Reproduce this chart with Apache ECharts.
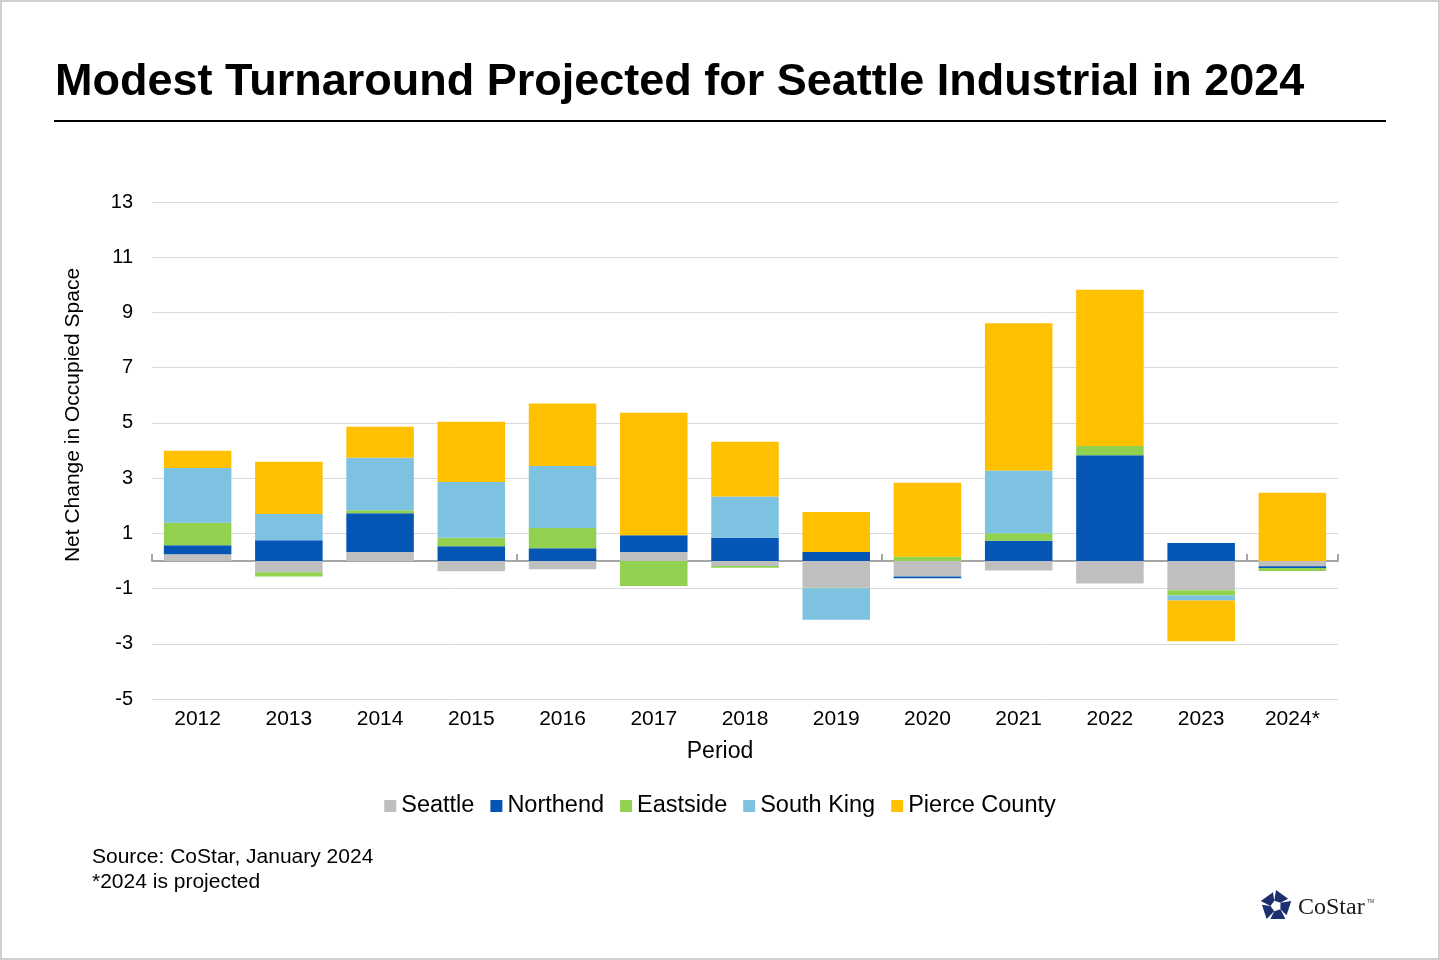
<!DOCTYPE html>
<html>
<head>
<meta charset="utf-8">
<title>Seattle Industrial</title>
<script src="https://cdn.jsdelivr.net/npm/echarts@6/dist/echarts.min.js"></script>
<style>
  html, body { margin: 0; padding: 0; background: #fff; }
  #chart { width: 1440px; height: 960px; }
  #frame { position: absolute; left: 0; top: 0; width: 1440px; height: 960px; box-sizing: border-box;
           border: 2px solid #d0d0d0; pointer-events: none; }
</style>
</head>
<body>
<div id="chart"></div>
<div id="frame"></div>
<script>
// categories
var years = ['2012', '2013', '2014', '2015', '2016', '2017', '2018', '2019', '2020', '2021', '2022', '2023', '2024*'];
// series values
var seattle    = [0.24, -0.41, 0.32, -0.37, -0.30, 0.32, -0.18, -0.97, -0.56, -0.35, -0.82, -1.06, -0.19];
var northend   = [0.33, 0.75, 1.41, 0.53, 0.46, 0.61, 0.84, 0.32, -0.07, 0.73, 3.83, 0.65, -0.07];
var eastside   = [0.81, -0.15, 0.11, 0.31, 0.73, -0.91, -0.07, -0.02, 0.15, 0.27, 0.33, -0.19, -0.10];
var southKing  = [1.99, 0.95, 1.90, 2.02, 2.25, 0, 1.49, -1.14, 0, 2.28, 0, -0.18, 0];
var pierce     = [0.62, 1.89, 1.12, 2.18, 2.26, 4.44, 1.99, 1.45, 2.68, 5.33, 5.66, -1.48, 2.47];

var seriesNames = ['Seattle', 'Northend', 'Eastside', 'South King', 'Pierce County'];
var seriesData = [seattle, northend, eastside, southKing, pierce];
var colors = ['#BFBFBF', '#0555B5', '#92D050', '#7EC2E2', '#FFC000'];

var font = 'Liberation Sans, Arial, sans-serif';

var chart = echarts.init(document.getElementById('chart'));

// CoStar logo: pinwheel of five pieces
function logoPieces(cx, cy) {
  var out = [];
  var R = 16, r = 5.5;
  function polar(deg, rad) {
    var t = deg * Math.PI / 180;
    return [cx + Math.cos(t) * rad, cy + Math.sin(t) * rad];
  }
  for (var k = 0; k < 5; k++) {
    var a = k * 72 - 90;
    var o1 = polar(a, R), o2 = polar(a + 72, R);
    var e = [o1[0] + (o2[0] - o1[0]) * 0.8, o1[1] + (o2[1] - o1[1]) * 0.8];
    var pts = [o1, e, polar(a + 54, r), polar(a - 18, r)];
    out.push({ type: 'polygon', shape: { points: pts }, style: { fill: '#1C2F6E' } });
  }
  return out;
}

var option = {
  animation: false,
  color: colors,
  textStyle: { fontFamily: font },
  title: {
    text: 'Modest Turnaround Projected for Seattle Industrial in 2024',
    left: 50, top: 55,
    textStyle: { fontSize: 45, fontWeight: 'bold', color: '#000', fontFamily: font }
  },
  legend: {
    data: seriesNames,
    left: 'center', top: 789,
    itemWidth: 12, itemHeight: 12, itemGap: 16,
    icon: 'rect',
    textStyle: { fontSize: 23.5, color: '#000' }
  },
  grid: { left: 152, right: 102, top: 202, bottom: 261 },
  xAxis: [{
    type: 'category',
    data: years,
    axisLine: { show: false, onZero: false },
    axisTick: { show: false },
    axisLabel: { fontSize: 21, color: '#000', margin: 10 }
  }, {
    type: 'category',
    data: years,
    axisLine: { show: true, onZero: true, lineStyle: { color: '#A6A6A6', width: 2 } },
    axisTick: { show: true, interval: 3, length: 7, lineStyle: { color: '#A6A6A6', width: 2 } },
    axisLabel: { show: false }
  }],
  yAxis: {
    type: 'value',
    min: -5, max: 13, interval: 2,
    axisLine: { show: false },
    axisTick: { show: false },
    axisLabel: { fontSize: 20, color: '#000', margin: 19 },
    splitLine: { lineStyle: { color: '#D9D9D9', width: 1 } }
  },
  series: seriesNames.map(function (n, i) {
    return {
      name: n, type: 'bar', stack: 'total',
      barCategoryGap: '26%',
      data: seriesData[i],
      itemStyle: { color: colors[i] }
    };
  }),
  graphic: [
    { type: 'rect', shape: { x: 54, y: 120, width: 1332, height: 2 }, style: { fill: '#000' } },
    { type: 'text', x: 73, y: 415, rotation: Math.PI / 2,
      style: { text: 'Net Change in Occupied Space', fontSize: 21, fill: '#000', fontFamily: font,
               align: 'center', verticalAlign: 'middle' } },
    { type: 'text', x: 720, y: 752,
      style: { text: 'Period', fontSize: 23, fill: '#000', fontFamily: font,
               align: 'center', verticalAlign: 'middle' } },
    { type: 'text', x: 92, y: 845,
      style: { text: 'Source: CoStar, January 2024\n*2024 is projected', fontSize: 21, lineHeight: 25,
               fill: '#000', fontFamily: font } },
    { type: 'group', children: logoPieces(1276, 906) },
    { type: 'text', x: 1298, y: 908,
      style: { text: 'CoStar', fontSize: 24, fill: '#1A1A1A', fontFamily: 'Liberation Serif, DejaVu Serif, serif',
               verticalAlign: 'middle' } },
    { type: 'text', x: 1367, y: 902,
      style: { text: 'TM', fontSize: 5, fill: '#333', fontFamily: font, verticalAlign: 'middle' } }
  ]
};

chart.setOption(option);
</script>
</body>
</html>
